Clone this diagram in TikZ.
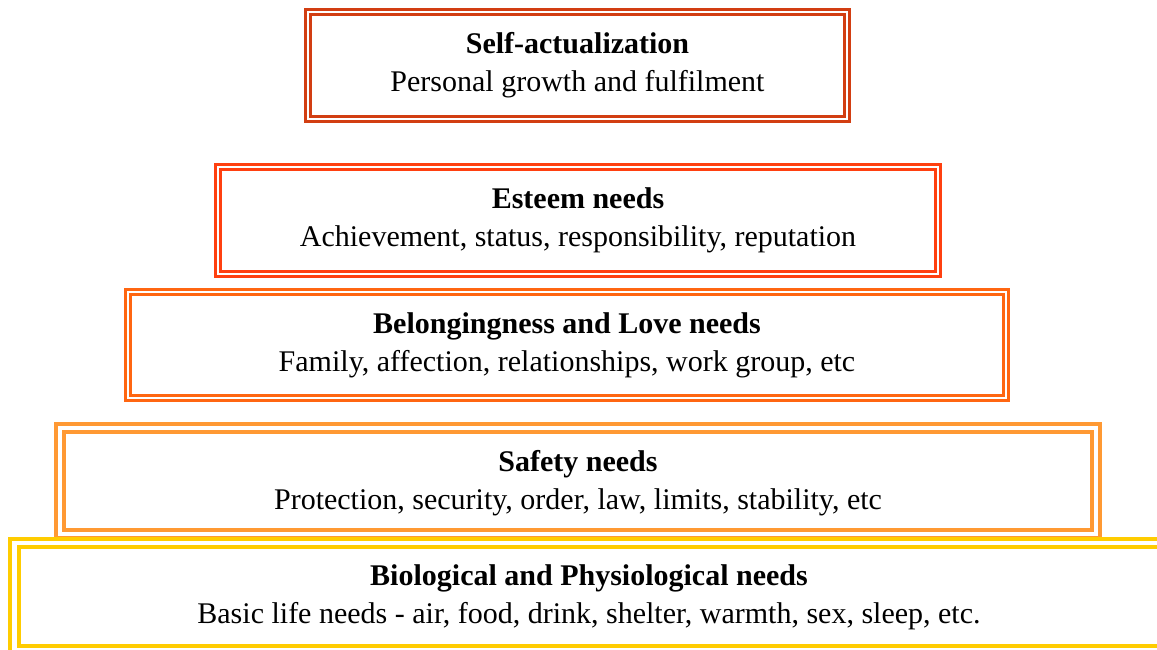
\documentclass[tikz,border=0pt]{standalone}
\usepackage{fontspec}
\setmainfont{Liberation Serif}
\definecolor{cA}{RGB}{210,62,18}
\definecolor{cB}{RGB}{255,64,16}
\definecolor{cC}{RGB}{255,102,17}
\definecolor{cD}{RGB}{255,153,51}
\definecolor{cE}{RGB}{255,204,0}
\tikzset{
  frameline/.style={draw=#1, line width=3pt},
  thickframe/.style={draw=#1, line width=4.5pt},
  label/.style={align=center, font=\fontsize{30}{38}\selectfont, inner sep=0pt}
}
\begin{document}
\begin{tikzpicture}[x=1pt,y=-1pt]
\path[use as bounding box] (0,0) rectangle (1157,650);
\clip (0,0) rectangle (1157,650);
% Box 1
\coordinate (a1) at (305.5,9.5);   \coordinate (a2) at (849.5,121.5);
\coordinate (a3) at (310.5,14.5);  \coordinate (a4) at (844.5,116.5);
\draw[frameline=cA] (a1) rectangle (a2);
\draw[frameline=cA] (a3) rectangle (a4);
\node[label] (ta) at (577.5,65.5) {\textbf{Self-actualization}\\Personal growth and fulfilment};
% Box 2
\coordinate (b1) at (215,165);   \coordinate (b2) at (940.5,276);
\coordinate (b3) at (220,170);   \coordinate (b4) at (935.5,271);
\draw[frameline=cB] (b1) rectangle (b2);
\draw[frameline=cB] (b3) rectangle (b4);
\node[label] (tb) at (578,220.5) {\textbf{Esteem needs}\\Achievement, status, responsibility, reputation};
% Box 3
\coordinate (c1) at (125,289);   \coordinate (c2) at (1008,400.5);
\coordinate (c3) at (130,294);   \coordinate (c4) at (1003,395.5);
\draw[frameline=cC] (c1) rectangle (c2);
\draw[frameline=cC] (c3) rectangle (c4);
\node[label] (tc) at (567,345) {\textbf{Belongingness and Love needs}\\Family, affection, relationships, work group, etc};
% Box 4
\coordinate (d1) at (56,424);   \coordinate (d2) at (1100,538);
\coordinate (d3) at (64,432);   \coordinate (d4) at (1092,530);
\draw[thickframe=cD] (d1) rectangle (d2);
\draw[frameline=cD, line width=3.5pt] (d3) rectangle (d4);
\node[label] (td) at (578,483) {\textbf{Safety needs}\\Protection, security, order, law, limits, stability, etc};
% Box 5
\coordinate (e1) at (10,538.5);   \coordinate (e2) at (1172,656);
\coordinate (e3) at (19,546.5);   \coordinate (e4) at (1163,645.5);
\draw[thickframe=cE, line width=4pt] (e1) rectangle (e2);
\draw[frameline=cE, line width=4pt] (e3) rectangle (e4);
\node[label] (te) at (589,597.5) {\textbf{Biological and Physiological needs}\\Basic life needs - air, food, drink, shelter, warmth, sex, sleep, etc.};
\end{tikzpicture}
\end{document}
